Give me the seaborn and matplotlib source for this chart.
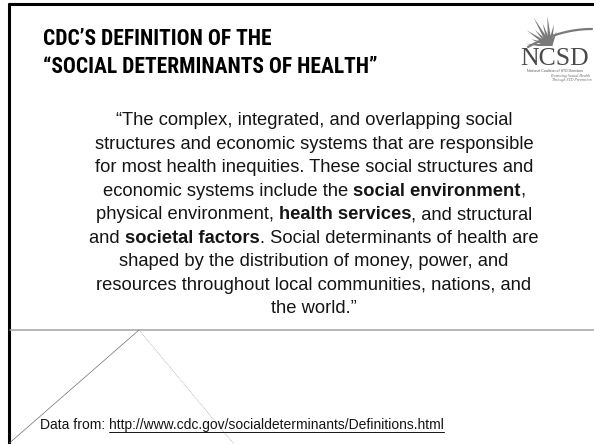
import matplotlib
matplotlib.use("Agg")
import matplotlib.pyplot as plt
from matplotlib import font_manager
import seaborn as sns
import numpy as np

sns.set_theme(style="white")
plt.rcParams['font.family'] = ['Liberation Sans', 'DejaVu Sans']


def pick_font(names):
    for n in names:
        try:
            font_manager.findfont(n, fallback_to_default=False)
            return n
        except Exception:
            pass
    return 'DejaVu Sans'


narrow = pick_font(['Liberation Sans Narrow', 'Roboto Condensed', 'Liberation Sans'])

# slide text
title_lines = ["CDC\u2019S DEFINITION OF THE",
               "\u201cSOCIAL DETERMINANTS OF HEALTH\u201d"]
quote_lines = [
    [("\u201cThe complex, integrated, and overlapping social", False)],
    [("structures and economic systems that are responsible", False)],
    [("for most health inequities. These social structures and", False)],
    [("economic systems include the ", False), ("social environment", True), (",", False)],
    [("physical environment, ", False), ("health services", True), (", and structural", False)],
    [("and ", False), ("societal factors", True), (". Social determinants of health are", False)],
    [("shaped by the distribution of money, power, and", False)],
    [("resources throughout local communities, nations, and", False)],
    [("the world.\u201d", False)],
]
source_label = "Data from: "
source_url = "http://www.cdc.gov/socialdeterminants/Definitions.html"
logo_name = "NCSD"
logo_sub = ["National Coalition of STD Directors", "Promoting Sexual Health", "Through STD Prevention"]

fig = plt.figure(figsize=(5.94, 4.44), dpi=100)
ax = fig.add_axes([0, 0, 1, 1])
ax.set_xlim(0, 594)
ax.set_ylim(444, 0)
ax.axis('off')
renderer = fig.canvas.get_renderer()

# frame lines
ax.plot([8.5, 8.5], [3, 444], color='black', lw=2.2, solid_capstyle='butt')
ax.plot([7.5, 594], [4, 4], color='black', lw=2.2, solid_capstyle='butt')
ax.plot([9.5, 594], [330, 330], color='#a3a3a3', lw=1.1)
ax.plot([9.5, 139], [443, 330], color='#6e6e6e', lw=0.5)
ax.plot([139, 234], [330, 444], color='#b0b0b0', lw=0.6, ls=(0, (1, 1)))

# title
for i, line in enumerate(title_lines):
    ax.text(43, 45 + i * 28, line, family=[narrow, 'DejaVu Sans'], fontsize=15.5,
            fontweight='bold', color='black', ha='left', va='baseline')

# quote, centred line by line, bold runs measured in place
cx = 314
for i, segs in enumerate(quote_lines):
    y = 125 + i * 23.5
    texts = []
    for s, b in segs:
        t = ax.text(0, y, s, fontsize=13.2, fontweight='bold' if b else 'normal',
                    color='#151515', ha='left', va='baseline')
        texts.append(t)
    widths = [t.get_window_extent(renderer).width for t in texts]
    x = cx - sum(widths) / 2
    for t, w in zip(texts, widths):
        t.set_x(x)
        x += w

# source footnote
t1 = ax.text(40, 429, source_label, fontsize=10, color='#151515', ha='left', va='baseline')
w1 = t1.get_window_extent(renderer).width
t2 = ax.text(40 + w1, 429, source_url, fontsize=10, color='#151515', ha='left', va='baseline')
w2 = t2.get_window_extent(renderer).width
ax.plot([40 + w1, 40 + w1 + w2], [431.5, 431.5], color='#151515', lw=0.7)

# logo
gray = '#7a7a7a'
c0 = np.array([550.0, 46.0])
ray_angles = [95, 108, 120, 133, 146, 160, 175, 190, 80, 65]
ray_lens = [30, 24, 33, 22, 28, 20, 24, 16, 22, 16]
for a, L in zip(ray_angles, ray_lens):
    r = np.deg2rad(a)
    d = np.array([np.cos(r), -np.sin(r)])
    p = np.array([-d[1], d[0]])
    tip = c0 + d * L
    pts = np.array([c0 + p * 2.2, tip, c0 - p * 2.2])
    ax.fill(pts[:, 0], pts[:, 1], color=gray, lw=0)
ax.fill([534, 566, 566, 534], [46, 46, 52, 52], color='white', lw=0, zorder=2)
sw = np.linspace(0, 1, 40)
ax.plot(528 + 64 * sw, 47 - 18 * sw - 18 * sw * (1 - sw), color=gray, lw=1.6, zorder=3)
ax.text(555, 65, logo_name, family=['Liberation Serif', 'DejaVu Serif'], fontsize=18.5,
        color='#4a4a4a', ha='center', va='baseline', zorder=3)
ax.text(555, 72, logo_sub[0], fontsize=2.6, color='#555555', ha='center', va='baseline')
ax.text(590, 77, logo_sub[1], family=['Liberation Serif', 'DejaVu Serif'], fontsize=2.8,
        style='italic', color='#666666', ha='right', va='baseline')
ax.text(592, 81.5, logo_sub[2], family=['Liberation Serif', 'DejaVu Serif'], fontsize=2.8,
        style='italic', color='#666666', ha='right', va='baseline')

fig.savefig("out.png", dpi=100, facecolor='white')
